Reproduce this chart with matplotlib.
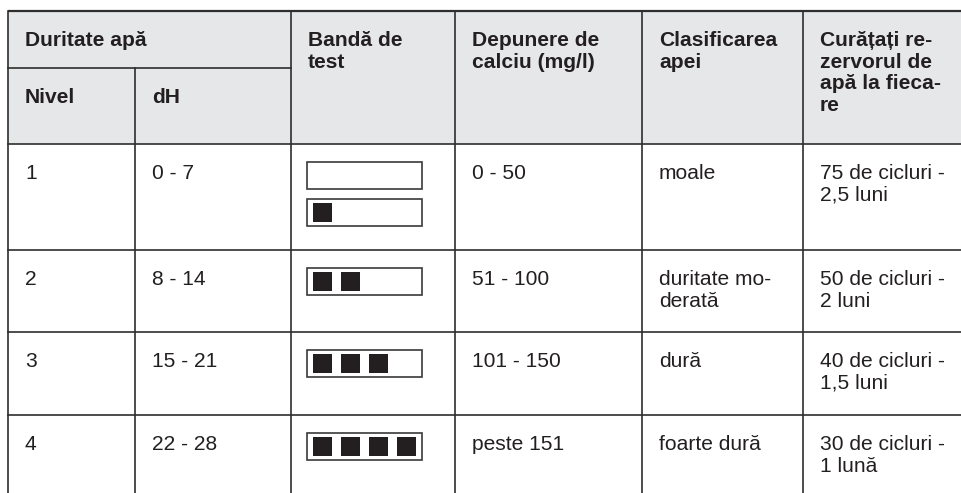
import matplotlib.pyplot as plt
from matplotlib.patches import Rectangle

plt.rcParams['font.family'] = ['Liberation Sans', 'DejaVu Sans']

# Table content
header_top = ["Duritate apă", "Bandă de\ntest", "Depunere de\ncalciu (mg/l)",
              "Clasificarea\napei", "Curățați re-\nzervorul de\napă la fieca-\nre"]
header_sub = ["Nivel", "dH"]
levels = ["1", "2", "3", "4"]
dh_ranges = ["0 - 7", "8 - 14", "15 - 21", "22 - 28"]
test_band = [[0, 1], [2], [3], [4]]   # filled squares per strip
calcium = ["0 - 50", "51 - 100", "101 - 150", "peste 151"]
water_class = ["moale", "duritate mo-\nderată", "dură", "foarte dură"]
cleaning = ["75 de cicluri -\n2,5 luni", "50 de cicluri -\n2 luni",
            "40 de cicluri -\n1,5 luni", "30 de cicluri -\n1 lună"]

# Layout in pixels
W, H = 962, 493
col_x = [8, 135, 291, 455, 642, 803, W]
row_y = [11, 144, 250, 332, 415, H]
sub_y = 68
line_c = '#2e2e2e'
lw = 1.2
fs = 15.1
pad_x = 17
base_off = 35
line_h = 21.6

fig = plt.figure(figsize=(W / 100, H / 100), dpi=100)
ax = fig.add_axes([0, 0, 1, 1])
ax.set_xlim(0, W)
ax.set_ylim(H, 0)
ax.axis('off')

# header background
ax.add_patch(Rectangle((col_x[0], row_y[0]), W - col_x[0], row_y[1] - row_y[0],
                       facecolor='#e6e7e8', edgecolor='none', zorder=0))


def cell_text(x, top, txt, bold=False):
    for i, ln in enumerate(txt.split("\n")):
        ax.text(x + pad_x, top + base_off + i * line_h, ln, fontsize=fs,
                fontweight='bold' if bold else 'normal', color='#231f20',
                va='baseline', ha='left')


# grid lines
ax.plot([col_x[0], W], [row_y[0]] * 2, color=line_c, lw=1.6, solid_capstyle='butt')
ax.plot([col_x[0], col_x[2]], [sub_y] * 2, color=line_c, lw=lw)
for y in row_y[1:-1]:
    ax.plot([col_x[0], W], [y, y], color=line_c, lw=lw)
for i, x in enumerate(col_x[:-1]):
    y0 = sub_y if i == 1 else row_y[0]
    ax.plot([x, x], [y0, H], color=line_c, lw=lw)

# header text
cell_text(col_x[0], row_y[0], header_top[0], bold=True)
for j, t in enumerate(header_top[1:]):
    cell_text(col_x[j + 2], row_y[0], t, bold=True)
cell_text(col_x[0], sub_y, header_sub[0], bold=True)
cell_text(col_x[1], sub_y, header_sub[1], bold=True)

# body
box_w, box_h, sq, sq_gap = 115, 27, 19, 28
for r in range(4):
    top = row_y[r + 1]
    cell_text(col_x[0], top, levels[r])
    cell_text(col_x[1], top, dh_ranges[r])
    cell_text(col_x[3], top, calcium[r])
    cell_text(col_x[4], top, water_class[r])
    cell_text(col_x[5], top, cleaning[r])
    for k, n in enumerate(test_band[r]):
        bx = col_x[2] + 16
        by = top + 18 + k * 37
        ax.add_patch(Rectangle((bx, by), box_w, box_h, facecolor='white',
                               edgecolor='#3a3a3a', lw=1.2, zorder=2))
        for s in range(n):
            ax.add_patch(Rectangle((bx + 6 + s * sq_gap, by + 4), sq, sq,
                                   facecolor='#231f20', edgecolor='none', zorder=3))

fig.savefig("out.png", dpi=100)
